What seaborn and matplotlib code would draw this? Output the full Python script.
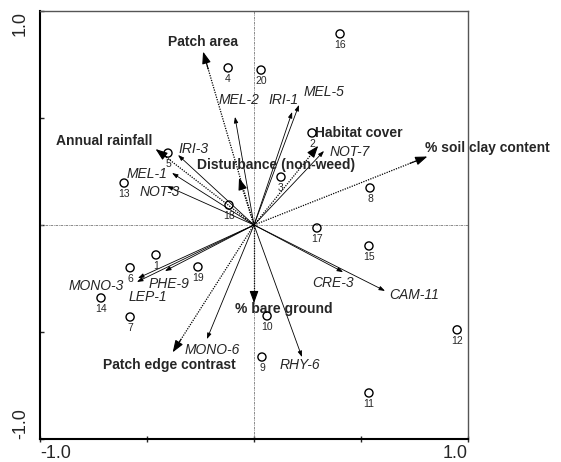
import numpy as np
import pandas as pd
import matplotlib
matplotlib.use("Agg")
import matplotlib.pyplot as plt
import seaborn as sns

# =========================
# STYLE
# =========================
sns.set_style("white")
plt.rcParams['font.family'] = ['Liberation Sans', 'DejaVu Sans']

# =========================
# DATA (CCA biplot scores)
# =========================
site_ids = list(range(1, 21))
site_x = [-0.458, 0.271, 0.126, -0.121, -0.402, -0.579, -0.579, 0.542, 0.037, 0.061,
          0.537, 0.949, -0.607, -0.715, 0.537, 0.402, 0.294, -0.117, -0.262, 0.033]
site_y = [-0.140, 0.430, 0.224, 0.734, 0.336, -0.200, -0.430, 0.173, -0.617, -0.425,
          -0.785, -0.490, 0.196, -0.341, -0.098, 0.893, -0.014, 0.093, -0.196, 0.724]

species = ["MEL-2", "IRI-1", "MEL-5", "NOT-7", "IRI-3", "MEL-1", "NOT-3", "MONO-3",
           "LEP-1", "PHE-9", "MONO-6", "RHY-6", "CRE-3", "CAM-11"]
species_x = [-0.089, 0.178, 0.210, 0.327, -0.355, -0.383, -0.407, -0.542,
             -0.547, -0.416, -0.220, 0.224, 0.416, 0.612]
species_y = [0.505, 0.528, 0.561, 0.346, 0.327, 0.243, 0.182, -0.248,
             -0.266, -0.215, -0.533, -0.617, -0.220, -0.308]

env_vars = ["Patch area", "Annual rainfall", "Disturbance (non-weed)", "Habitat cover",
            "% soil clay content", "% bare ground", "Patch edge contrast"]
env_x = [-0.238, -0.460, -0.070, 0.300, 0.810, 0.000, -0.380]
env_y = [0.810, 0.355, 0.220, 0.370, 0.320, -0.365, -0.595]

sites = pd.DataFrame({'id': site_ids, 'x': site_x, 'y': site_y})

# label placement (offset points from arrow tip, horizontal alignment)
species_offsets = {
    "MEL-2": (-12, 12, 'left'), "IRI-1": (-17, 9, 'left'), "MEL-5": (3, 9, 'left'),
    "NOT-7": (4, -1, 'left'), "IRI-3": (0, 4, 'left'), "MEL-1": (-3, -1, 'right'),
    "NOT-3": (-20, -4, 'left'), "MONO-3": (-10, -6, 'right'), "LEP-1": (-6, -11, 'left'),
    "PHE-9": (-12, -9, 'left'), "MONO-6": (-16, -8, 'left'), "RHY-6": (-16, -6, 'left'),
    "CRE-3": (-22, -8, 'left'), "CAM-11": (3, -3, 'left'),
}
env_offsets = {
    "Patch area": (-25, 7, 'left'), "Annual rainfall": (-2, 6, 'right'),
    "Disturbance (non-weed)": (-30, 9, 'left'), "Habitat cover": (-2, 9, 'left'),
    "% soil clay content": (-2, 6, 'left'), "% bare ground": (-14, -4, 'left'),
    "Patch edge contrast": (-50, -9, 'left'),
}

# =========================
# FIGURE
# =========================
fig = plt.figure(figsize=(5.61, 4.62), dpi=100)
ax = fig.add_axes([0.0713, 0.0498, 0.7630, 0.9264])

ax.axhline(0, color='#777777', lw=0.6, linestyle=(0, (3, 1, 1, 1)), zorder=1)
ax.axvline(0, color='#777777', lw=0.6, linestyle=(0, (3, 1, 1, 1)), zorder=1)

# species arrows (solid, tiny heads)
for name, x, y in zip(species, species_x, species_y):
    ax.annotate('', xy=(x, y), xytext=(0, 0),
                arrowprops=dict(arrowstyle='-|>,head_length=0.7,head_width=0.25',
                                color='black', lw=0.6, shrinkA=0, shrinkB=0,
                                mutation_scale=5), zorder=2)
    dx, dy, ha = species_offsets[name]
    ax.annotate(name, xy=(x, y), xytext=(dx, dy), textcoords='offset points',
                ha=ha, va='center', fontsize=10, style='italic', zorder=4)

# environmental arrows (dotted with filled head)
for name, x, y in zip(env_vars, env_x, env_y):
    ax.plot([0, x * 0.96], [0, y * 0.96], color='black', lw=0.9,
            linestyle=(0, (1, 1)), zorder=2)
    ax.annotate('', xy=(x, y), xytext=(x * 0.9, y * 0.9),
                arrowprops=dict(arrowstyle='-|>,head_length=0.6,head_width=0.22',
                                color='black', lw=0.8, shrinkA=0, shrinkB=0,
                                mutation_scale=12), zorder=3)
    dx, dy, ha = env_offsets[name]
    ax.annotate(name, xy=(x, y), xytext=(dx, dy), textcoords='offset points',
                ha=ha, va='center', fontsize=10, fontweight='bold',
                annotation_clip=False, zorder=4)

# sites
sns.scatterplot(data=sites, x='x', y='y', ax=ax, s=34, marker='o',
                facecolor='none', edgecolor='black', linewidth=1.0, zorder=5)
for sid, x, y in zip(site_ids, site_x, site_y):
    ax.text(x, y - 0.052, str(sid), ha='center', va='center', fontsize=7.5, zorder=5)

# =========================
# AXES
# =========================
ax.set_xlim(-1, 1)
ax.set_ylim(-1, 1)
ax.set_xlabel('')
ax.set_ylabel('')

ticks = [-1, -0.5, 0, 0.5, 1]
ax.set_xticks(ticks)
ax.set_xticklabels(['-1.0', '', '', '', '1.0'], fontsize=13)
ax.set_yticks(ticks)
ax.set_yticklabels(['-1.0', '', '', '', '1.0'], fontsize=13, rotation=90)
xl = ax.get_xticklabels()
xl[0].set_ha('left')
xl[-1].set_ha('right')
yl = ax.get_yticklabels()
yl[0].set_va('bottom')
yl[-1].set_va('top')

ax.tick_params(axis='x', direction='inout', length=5, width=1, pad=2, bottom=True)
ax.tick_params(axis='y', direction='in', length=3, width=1, pad=8, left=True)

for side in ['left', 'bottom']:
    ax.spines[side].set_linewidth(1.5)
    ax.spines[side].set_color('black')
for side in ['top', 'right']:
    ax.spines[side].set_linewidth(1.0)
    ax.spines[side].set_color('#555555')

plt.savefig("out.png", dpi=100)
